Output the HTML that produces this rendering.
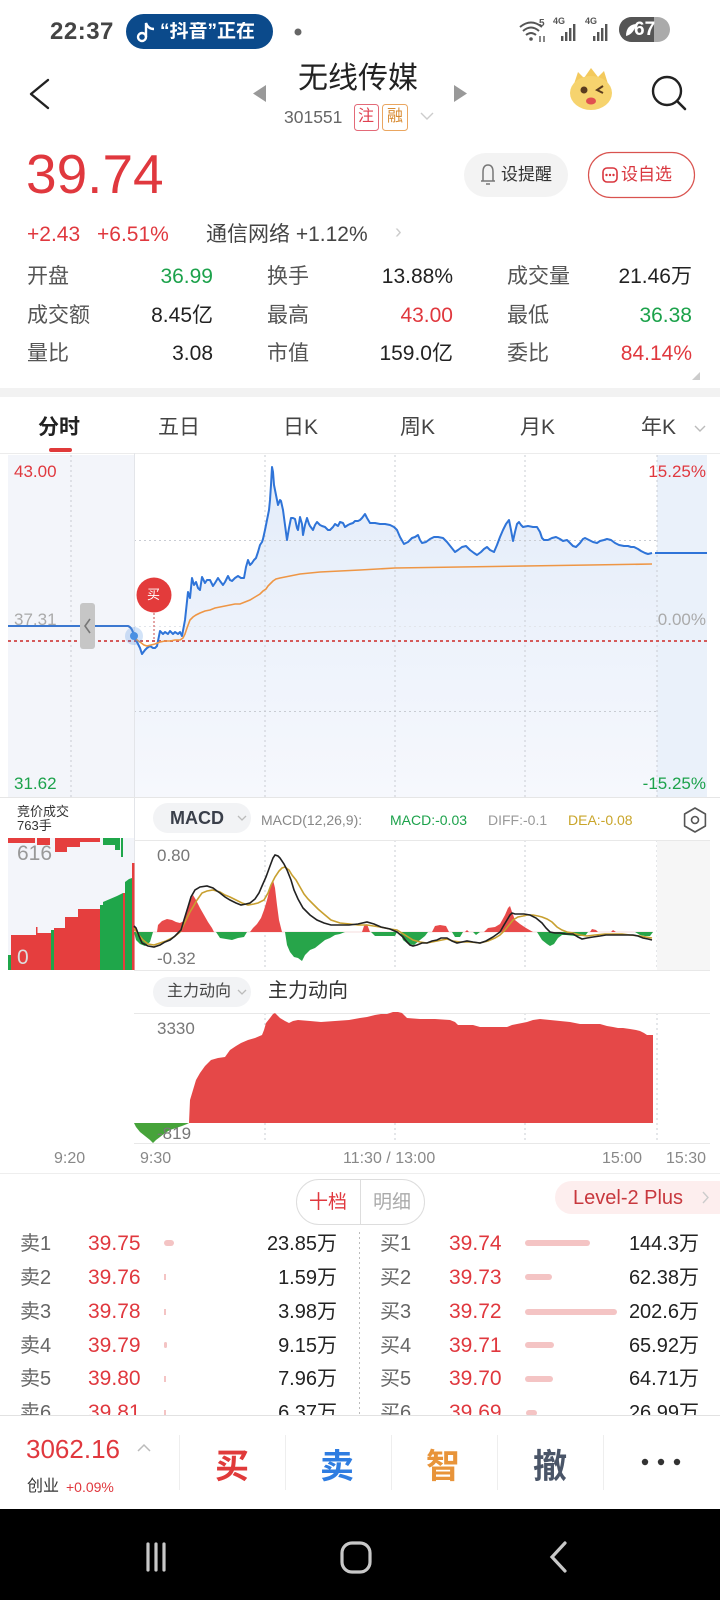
<!DOCTYPE html>
<html><head><meta charset="utf-8">
<style>
*{margin:0;padding:0;box-sizing:border-box}
html,body{width:720px;height:1600px;overflow:hidden;background:#fff}
body{position:relative;font-family:"Liberation Sans","Noto Sans CJK SC",sans-serif;color:#222}
.t{position:absolute;white-space:nowrap;line-height:1}
.r{text-align:right}
.red{color:#e0383e}.grn{color:#1ca24b}
</style></head><body>
<svg width="720" height="1600" style="position:absolute;left:0;top:0" xmlns="http://www.w3.org/2000/svg">
<defs>
<linearGradient id="fg" gradientUnits="userSpaceOnUse" x1="0" y1="460" x2="0" y2="797">
<stop offset="0" stop-color="#e3ecf9"/><stop offset="1" stop-color="#f6f8fd"/></linearGradient>
</defs>
<!-- status bar -->
<rect x="126" y="14" width="147" height="35" rx="17.5" fill="#0b4a8b"/>
<circle cx="142" cy="37" r="4" fill="none" stroke="#fff" stroke-width="2.4"/>
<path d="M146,37 V23 Q148,29 154,29" fill="none" stroke="#fff" stroke-width="2.4"/>
<circle cx="298" cy="32" r="3.5" fill="#666"/>
<path d="M520,27 Q531,18 542,27 M523,31 Q531,24 539,31 M526,35 Q531,31 536,35" fill="none" stroke="#555" stroke-width="2"/>
<circle cx="531" cy="39" r="1.8" fill="#555"/>
<path d="M540,36 V42 M544,42 V36" stroke="#555" stroke-width="1.4"/>
<g fill="#555"><rect x="561" y="36" width="2.4" height="5"/><rect x="565" y="32" width="2.4" height="9"/><rect x="569" y="28" width="2.4" height="13"/><rect x="573" y="24" width="2.4" height="17"/>
<rect x="593" y="36" width="2.4" height="5"/><rect x="597" y="32" width="2.4" height="9"/><rect x="601" y="28" width="2.4" height="13"/><rect x="605" y="24" width="2.4" height="17"/></g>
<rect x="619" y="17" width="51" height="25" rx="12.5" fill="#aaa"/>
<path d="M631.5,17 H654 V42 H631.5 A12.5,12.5 0 0 1 631.5,17 Z" fill="#555"/>
<path d="M626,36 Q626,25 636,24 Q634,34 626,36 Z" fill="#fff"/>
<!-- header -->
<path d="M48,80 L31,94 L48,108" fill="none" stroke="#222" stroke-width="2.4" stroke-linejoin="round" stroke-linecap="round"/>
<polygon points="266,85 253,93.5 266,102" fill="#999"/>
<polygon points="454,85 467,93.5 454,102" fill="#999"/>
<rect x="354.5" y="104.5" width="24" height="26" rx="3" fill="#fff" stroke="#e36a78"/>
<rect x="382.5" y="104.5" width="25" height="26" rx="3" fill="#fff" stroke="#eaa660"/>
<path d="M421,113 L427,119 L433,113" fill="none" stroke="#ccc" stroke-width="1.4"/>
<polygon points="574,84 578,72 584,78 591,68 598,77 604,71 608,84" fill="#f3c95c"/>
<ellipse cx="591" cy="93" rx="21" ry="17" fill="#f6d36e"/>
<circle cx="584" cy="90" r="3.5" fill="#5a3b1e"/>
<path d="M603,86 L597,90 L603,93" fill="none" stroke="#5a3b1e" stroke-width="2"/>
<ellipse cx="591" cy="101" rx="5" ry="3.5" fill="#e05050"/>
<circle cx="667" cy="91" r="14" fill="none" stroke="#222" stroke-width="2.4"/>
<path d="M677,101 L685,109" stroke="#222" stroke-width="2.6" stroke-linecap="round"/>
<rect x="464" y="153" width="104" height="44" rx="22" fill="#f3f3f3"/>
<path d="M483,181 V172 Q483,165 488,165 Q493,165 493,172 V181 Z M481,181 H495 M486,184 H490" fill="none" stroke="#777" stroke-width="1.5"/>
<rect x="588.5" y="152.5" width="106" height="45" rx="22.5" fill="#fff" stroke="#d9534f" stroke-width="1.2"/>
<rect x="603" y="168" width="14" height="14" rx="4" fill="none" stroke="#d9363e" stroke-width="1.6"/>
<g fill="#d9363e"><circle cx="606.5" cy="175" r="1.2"/><circle cx="610" cy="175" r="1.2"/><circle cx="613.5" cy="175" r="1.2"/></g>
<polygon points="700,372 700,380 692,380" fill="#ccc"/>
<rect x="0" y="388" width="720" height="9" fill="#f2f2f2"/>
<path d="M695,426 L700,431 L705,426" fill="none" stroke="#bbb" stroke-width="1.4"/>
<rect x="49" y="448" width="23" height="4" rx="2" fill="#e03a3a"/>
<line x1="0" y1="453.5" x2="720" y2="453.5" stroke="#ececec"/>
<!-- main chart backgrounds -->
<rect x="8" y="455" width="126" height="342" fill="#f3f5fa"/>
<rect x="657" y="455" width="50" height="342" fill="#eaf1fa"/>
<path fill="url(#fg)" d="M134,636 L140,648 142,654 145,650 147,648 150,646 153,648 155,648 157,646 160,631 163,634 165,632 168,634 170,631 173,634 175,632 178,634 180,632 182,636 185,620 188,592 190,598 192,578 194,585 196,582 198,588 200,590 202,577 205,583 207,580 210,580 213,586 215,583 218,578 220,581 223,585 225,582 228,576 230,580 232,581 235,578 238,576 241,578 244,578 246,567 248,560 250,565 252,563 254,560 256,558 258,552 260,545 262,542 263,539 265,530 267,520 269,510 270,500 271,485 272,467 273,472 274,485 276,495 278,505 280,500 281,501 283,510 285,525 287,540 289,528 291,518 293,518 295,519 297,528 298,530 300,517 302,524 303,535 305,525 307,518 309,524 310,526 313,530 315,525 317,522 320,525 322,526 325,527 328,530 330,530 333,527 335,524 338,526 340,522 343,523 345,527 348,525 350,524 353,523 355,521 358,521 360,520 362,518 365,514 367,518 370,523 375,523 380,524 385,524 390,525 394,527 397,530 400,537 404,544 408,542 412,538 415,537 418,535 420,540 422,543 426,542 430,539 434,537 438,537 443,538 447,542 451,547 455,552 458,550 462,547 466,546 470,550 474,553 477,555 481,552 484,549 487,547 490,550 494,552 497,545 500,537 503,530 506,524 509,520 511,530 513,541 515,532 517,524 519,522 521,525 523,527 528,526 533,527 537,527 540,532 542,538 544,540 548,540 552,538 556,537 560,539 563,541 567,540 570,543 573,546 576,547 580,543 583,539 585,538 589,540 593,542 597,543 600,541 604,540 607,539 611,540 615,543 619,545 624,546 628,546 631,547 634,547 638,549 641,551 645,553 648,554 652,553 657,553 L657,797 L134,797 Z"/>
<!-- grids -->
<g stroke="#c9ccd3" stroke-width="1" stroke-dasharray="2,3" fill="none">
<path d="M71,455 V797 M265,455 V797 M395,455 V797 M525,455 V797 M657,455 V797"/>
<path d="M134,540.5 H657 M134,711.5 H657"/>
<path d="M71,838 V970 M265,840 V970 M395,840 V970 M525,840 V970 M657,840 V970"/>
<path d="M265,1013 V1143 M395,1013 V1143 M525,1013 V1143 M657,1013 V1143"/>
</g>
<line x1="134" y1="626.5" x2="657" y2="626.5" stroke="#e2e5ea" stroke-dasharray="2,3"/>
<line x1="134.5" y1="453" x2="134.5" y2="970" stroke="#e3e5e9"/>
<line x1="0" y1="797.5" x2="720" y2="797.5" stroke="#e6e6e6"/>
<!-- red dotted buy line -->
<line x1="8" y1="641" x2="707" y2="641" stroke="#d55a5a" stroke-width="2" stroke-dasharray="3,3"/>
<!-- price lines -->
<path d="M8,626 L128,626 C131,627 133,631 134,636" fill="none" stroke="#3b78d0" stroke-width="2"/>
<polyline fill="none" stroke="#2f74d8" stroke-width="2" stroke-linejoin="round" points="134,636 140,648 142,654 145,650 147,648 150,646 153,648 155,648 157,646 160,631 163,634 165,632 168,634 170,631 173,634 175,632 178,634 180,632 182,636 185,620 188,592 190,598 192,578 194,585 196,582 198,588 200,590 202,577 205,583 207,580 210,580 213,586 215,583 218,578 220,581 223,585 225,582 228,576 230,580 232,581 235,578 238,576 241,578 244,578 246,567 248,560 250,565 252,563 254,560 256,558 258,552 260,545 262,542 263,539 265,530 267,520 269,510 270,500 271,485 272,467 273,472 274,485 276,495 278,505 280,500 281,501 283,510 285,525 287,540 289,528 291,518 293,518 295,519 297,528 298,530 300,517 302,524 303,535 305,525 307,518 309,524 310,526 313,530 315,525 317,522 320,525 322,526 325,527 328,530 330,530 333,527 335,524 338,526 340,522 343,523 345,527 348,525 350,524 353,523 355,521 358,521 360,520 362,518 365,514 367,518 370,523 375,523 380,524 385,524 390,525 394,527 397,530 400,537 404,544 408,542 412,538 415,537 418,535 420,540 422,543 426,542 430,539 434,537 438,537 443,538 447,542 451,547 455,552 458,550 462,547 466,546 470,550 474,553 477,555 481,552 484,549 487,547 490,550 494,552 497,545 500,537 503,530 506,524 509,520 511,530 513,541 515,532 517,524 519,522 521,525 523,527 528,526 533,527 537,527 540,532 542,538 544,540 548,540 552,538 556,537 560,539 563,541 567,540 570,543 573,546 576,547 580,543 583,539 585,538 589,540 593,542 597,543 600,541 604,540 607,539 611,540 615,543 619,545 624,546 628,546 631,547 634,547 638,549 641,551 645,553 648,554 652,553"/>
<line x1="655" y1="553" x2="707" y2="553" stroke="#2f74d8" stroke-width="2"/>
<polyline fill="none" stroke="#ee9645" stroke-width="1.6" points="134,636 137,640 140,642 144,645 147,646 151,645 155,644 160,642 165,641 170,641 175,640 180,640 183,638 185,634 187,628 190,620 193,617 196,615 200,613 205,611 210,610 215,608 220,607 225,606 230,605 235,604 240,604 245,602 250,600 255,597 260,594 263,591 266,589 268,586 270,584 273,581 276,579 280,578 285,577 290,576 300,574 310,573 320,572 340,571 360,570 395,568 460,567 525,566 590,565 652,564"/>
<circle cx="134" cy="636" r="9" fill="#4a90e2" opacity="0.25"/>
<circle cx="134" cy="636" r="4" fill="#4a90e2"/>
<line x1="154" y1="613" x2="154" y2="641" stroke="#c94b4b" stroke-dasharray="2,2"/>
<circle cx="154" cy="595" r="17.5" fill="#e33b3b"/>
<rect x="80" y="603" width="15" height="46" rx="3" fill="#c6c6c6"/>
<path d="M90,619 L85,626 L90,633" fill="none" stroke="#777" stroke-width="1.6"/>
<!-- left pre-market volume -->
<rect x="8" y="838" width="126" height="132" fill="#f3f5fa"/>
<g fill="#e53e3e">
<rect x="11" y="935" width="25" height="35"/><rect x="36" y="927" width="1.5" height="43"/><rect x="37.5" y="933" width="13.5" height="37"/>
<rect x="54" y="928" width="11" height="42"/><rect x="65" y="917" width="13" height="53"/><rect x="78" y="909" width="22" height="61"/>
<rect x="123" y="893" width="2" height="77"/><rect x="132" y="863" width="2.5" height="107"/>
<rect x="8" y="838" width="27" height="5"/><rect x="37" y="838" width="13" height="7"/><rect x="55" y="838" width="12" height="14"/><rect x="67" y="838" width="13" height="9"/><rect x="80" y="838" width="20" height="4"/>
</g>
<g fill="#1fa64a">
<rect x="8" y="955" width="3" height="15"/><rect x="51" y="930" width="3" height="40"/><rect x="100" y="905" width="3" height="65"/>
<polygon points="103,970 103,902 110,899 117,896 123,893 123,970"/><polygon points="125,970 125,882 129,879 132,878 132,970"/>
<rect x="103" y="838" width="12" height="7"/><rect x="115" y="838" width="5" height="12"/><rect x="121" y="838" width="2" height="19"/>
</g>
<!-- MACD -->
<rect x="153" y="803" width="98" height="30" rx="15" fill="#f2f3f5"/>
<path d="M238,816 L242,820 L246,816" fill="none" stroke="#bbb" stroke-width="1.3"/>
<polygon points="695,808 705.4,814 705.4,826 695,832 684.6,826 684.6,814" fill="none" stroke="#555" stroke-width="1.6" stroke-linejoin="round"/>
<circle cx="695" cy="820" r="3.5" fill="none" stroke="#555" stroke-width="1.6"/>
<rect x="657" y="840" width="53" height="130" fill="#f6f6f6"/>
<line x1="134" y1="840.5" x2="710" y2="840.5" stroke="#e8e8e8"/>
<line x1="134" y1="970.5" x2="710" y2="970.5" stroke="#e8e8e8"/>
<line x1="134" y1="932" x2="653" y2="932" stroke="#f0d0d0" stroke-width="0.8"/>
<g fill="#e84a4a">
<polygon points="157,932 158,925 162,921 167,919 172,920 176,922 180,923 184,921 186,912 189,903 193,895 196,900 200,908 204,915 208,922 212,928 214,932"/>
<polygon points="250,932 253,928 257,924 261,918 264,910 267,900 270,888 273,880 275,888 277,905 279,920 282,932"/>
<polygon points="362,932 364,926 367,924 370,932"/>
<polygon points="432,932 435,926 440,925 446,926 449,932"/>
<polygon points="465,932 467,930 469,932"/>
<polygon points="484,932 488,928 495,927 500,924 505,915 508,908 510,906 512,912 515,920 520,924 526,928 533,932"/>
<polygon points="590,932 592,929 596,930 598,932"/>
<polygon points="611,932 613,930 616,932"/>
</g>
<g fill="#27a54a">
<polygon points="134,932 136,940 140,944 145,946 150,942 153,932"/>
<polygon points="216,932 220,938 226,939 232,940 238,938 244,937 247,932"/>
<polygon points="285,932 287,945 290,952 294,957 298,958 302,961 305,955 310,950 315,948 320,944 325,940 330,938 335,935 340,934 345,932"/>
<polygon points="371,932 375,936 385,936 395,936 397,932"/>
<polygon points="400,932 403,940 408,944 414,945 420,940 425,936 428,932"/>
<polygon points="452,932 455,937 460,937 463,932"/>
<polygon points="473,932 476,935 480,932"/>
<polygon points="537,932 542,940 547,944 550,946 554,944 558,938 562,935 566,935 575,936 585,936 588,932"/>
<polygon points="635,932 640,935 645,936 650,936 653,932"/>
</g>
<polyline fill="none" stroke="#c8a030" stroke-width="1.6" points="134,928 138,934 143,940 148,944 154,945 160,943 166,941 174,937 180,932 185,922 190,912 193,907 197,900 202,893 207,891 213,890 220,892 225,895 230,897 236,900 242,903 248,905 254,904 258,903 264,900 268,893 271,885 275,877 279,871 282,868 285,867 289,870 292,875 296,880 300,887 304,894 308,899 312,903 318,909 325,915 331,920 340,923 350,924 358,925 367,925 380,927 390,929 397,930 405,935 413,940 420,942 427,943 437,941 447,939 453,941 460,942 470,942 480,943 488,941 495,938 500,935 505,930 509,925 513,920 518,917 523,916 527,915 533,915 538,916 542,917 547,919 552,922 557,927 562,930 567,932 573,933 580,935 587,936 595,935 605,934 613,934 622,934 630,935 640,936 646,937 652,938"/>
<polyline fill="none" stroke="#222" stroke-width="1.6" points="134,926 136,928 139,936 142,943 148,946 154,947 160,945 165,942 170,940 175,936 181,930 184,920 188,907 191,897 195,890 200,887 207,886 213,888 217,891 220,893 225,897 230,900 236,903 241,905 246,904 250,903 255,899 259,893 262,886 266,877 270,866 273,858 275,855 278,856 280,858 284,864 287,870 291,880 294,890 298,899 303,908 310,915 317,920 324,923 331,925 340,925 349,925 358,924 367,922 374,924 381,927 390,929 397,932 403,937 407,942 410,945 413,946 417,945 422,943 427,943 432,941 437,940 441,938 447,938 452,941 457,943 462,942 467,941 473,942 480,943 486,941 493,937 500,932 504,925 507,920 510,915 512,913 515,914 518,914 524,914 530,915 536,918 542,923 546,928 550,932 555,933 560,933 566,934 573,934 578,937 582,939 587,938 593,937 600,936 606,935 613,935 620,935 627,935 633,935 638,936 643,938 648,939 652,940"/>
<!-- main force -->
<rect x="153" y="977" width="98" height="30" rx="15" fill="#f2f3f5"/>
<path d="M238,990 L242,994 L246,990" fill="none" stroke="#bbb" stroke-width="1.3"/>
<line x1="134" y1="1013.5" x2="710" y2="1013.5" stroke="#e8e8e8"/>
<line x1="134" y1="1143.5" x2="710" y2="1143.5" stroke="#e8e8e8"/>
<polygon fill="#e54848" points="189,1123 190,1100 193,1090 196,1080 200,1073 205,1066 211,1060 218,1058 225,1057 230,1050 236,1046 241,1043 248,1040 255,1038 262,1035 264,1030 266,1023 270,1018 273,1014 275,1013 278,1016 280,1018 285,1021 289,1023 293,1021 298,1020 310,1021 321,1022 335,1021 349,1020 360,1018 367,1017 375,1015 381,1014 387,1014 393,1012 398,1012 402,1013 405,1016 407,1018 420,1019 435,1019 450,1020 455,1022 458,1025 466,1025 473,1025 480,1027 495,1027 507,1027 512,1025 517,1024 522,1023 527,1022 533,1020 540,1019 550,1020 560,1021 570,1022 575,1023 580,1024 590,1024 600,1024 607,1026 613,1027 618,1028 623,1028 630,1029 636,1030 640,1031 644,1033 647,1035 653,1035 653,1123"/>
<polygon fill="#46a33a" points="134,1123 136,1127 140,1132 145,1136 150,1140 153,1143 156,1140 160,1137 165,1133 170,1130 176,1128 182,1126 187,1124 189,1123"/>
<line x1="0" y1="1173.5" x2="720" y2="1173.5" stroke="#eee"/>
<!-- order book -->
<rect x="296.5" y="1179.5" width="128" height="45" rx="22.5" fill="#fff" stroke="#ddd"/>
<line x1="360.5" y1="1180" x2="360.5" y2="1224" stroke="#ddd"/>
<rect x="555" y="1181" width="180" height="33" rx="16.5" fill="#fdeeee"/>
<path d="M703,1192 L708,1197.5 L703,1203" fill="none" stroke="#ccc" stroke-width="1.4"/>
<line x1="359.5" y1="1232" x2="359.5" y2="1415" stroke="#bbb" stroke-dasharray="2,3"/>
<g fill="#f4c4c4">
<rect x="164" y="1240" width="10" height="6" rx="3"/><rect x="164" y="1274" width="2" height="6"/><rect x="164" y="1309" width="2" height="6"/><rect x="164" y="1342" width="3" height="6" rx="1.5"/><rect x="164" y="1376" width="2" height="6"/><rect x="164" y="1410" width="2" height="6"/>
<rect x="525" y="1240" width="65" height="6" rx="3"/><rect x="525" y="1274" width="27" height="6" rx="3"/><rect x="525" y="1309" width="92" height="6" rx="3"/><rect x="525" y="1342" width="29" height="6" rx="3"/><rect x="525" y="1376" width="28" height="6" rx="3"/><rect x="526" y="1410" width="11" height="6" rx="3"/>
</g>
</svg>

<!-- status bar text -->
<div class="t" style="left:50px;top:20px;font-size:24px;font-weight:bold;color:#444;letter-spacing:0.5px">22:37</div>
<div class="t" style="left:160px;top:22px;width:108px;overflow:hidden;font-size:19px;font-weight:bold;color:#fff">“抖音”正在</div>
<div class="t" style="left:634px;top:20px;font-size:19px;font-weight:bold;color:#fff">67</div>
<div class="t" style="left:553px;top:17px;font-size:9px;font-weight:bold;color:#555">4G</div>
<div class="t" style="left:585px;top:17px;font-size:9px;font-weight:bold;color:#555">4G</div>
<div class="t" style="left:539px;top:19px;font-size:10px;font-weight:bold;color:#555">5</div>
<!-- header -->
<div class="t" style="left:298px;top:64px;font-size:30px;color:#222">无线传媒</div>
<div class="t" style="left:284px;top:109px;font-size:17.5px;color:#666">301551</div>
<div class="t" style="left:358px;top:109px;font-size:16px;color:#e04050">注</div>
<div class="t" style="left:387px;top:109px;font-size:16px;color:#d88a30">融</div>
<div class="t red" style="left:26px;top:147px;font-size:55px">39.74</div>
<div class="t" style="left:501px;top:166px;font-size:17px;color:#333">设提醒</div>
<div class="t" style="left:621px;top:166px;font-size:17px;color:#d9363e">设自选</div>
<div class="t red" style="left:27px;top:224px;font-size:21px">+2.43</div>
<div class="t red" style="left:97px;top:224px;font-size:21px">+6.51%</div>
<div class="t" style="left:206px;top:224px;font-size:21px;color:#444">通信网络 +1.12%</div>
<div class="t" style="left:395px;top:222px;font-size:20px;color:#ccc">›</div>
<!-- stats -->
<div class="t" style="left:27px;top:266px;font-size:21px;color:#555">开盘</div>
<div class="t grn" style="right:507px;top:266px;font-size:21px">36.99</div>
<div class="t" style="left:267px;top:266px;font-size:21px;color:#555">换手</div>
<div class="t" style="right:267px;top:266px;font-size:21px">13.88%</div>
<div class="t" style="left:507px;top:266px;font-size:21px;color:#555">成交量</div>
<div class="t" style="right:28px;top:266px;font-size:21px">21.46万</div>
<div class="t" style="left:27px;top:305px;font-size:21px;color:#555">成交额</div>
<div class="t" style="right:507px;top:305px;font-size:21px">8.45亿</div>
<div class="t" style="left:267px;top:305px;font-size:21px;color:#555">最高</div>
<div class="t red" style="right:267px;top:305px;font-size:21px">43.00</div>
<div class="t" style="left:507px;top:305px;font-size:21px;color:#555">最低</div>
<div class="t grn" style="right:28px;top:305px;font-size:21px">36.38</div>
<div class="t" style="left:27px;top:343px;font-size:21px;color:#555">量比</div>
<div class="t" style="right:507px;top:343px;font-size:21px">3.08</div>
<div class="t" style="left:267px;top:343px;font-size:21px;color:#555">市值</div>
<div class="t" style="right:267px;top:343px;font-size:21px">159.0亿</div>
<div class="t" style="left:507px;top:343px;font-size:21px;color:#555">委比</div>
<div class="t red" style="right:28px;top:343px;font-size:21px">84.14%</div>
<!-- tabs -->
<div class="t" style="left:38px;top:417px;font-size:21px;font-weight:bold;color:#222">分时</div>
<div class="t" style="left:158px;top:417px;font-size:21px;color:#444">五日</div>
<div class="t" style="left:283px;top:417px;font-size:21px;color:#444">日K</div>
<div class="t" style="left:400px;top:417px;font-size:21px;color:#444">周K</div>
<div class="t" style="left:520px;top:417px;font-size:21px;color:#444">月K</div>
<div class="t" style="left:641px;top:417px;font-size:21px;color:#444">年K</div>
<!-- chart labels -->
<div class="t red" style="left:14px;top:463px;font-size:17px">43.00</div>
<div class="t" style="left:14px;top:611px;font-size:17px;color:#aaa">37.31</div>
<div class="t grn" style="left:14px;top:775px;font-size:17px">31.62</div>
<div class="t red" style="right:14px;top:463px;font-size:17px">15.25%</div>
<div class="t" style="right:14px;top:611px;font-size:17px;color:#aaa">0.00%</div>
<div class="t grn" style="right:14px;top:775px;font-size:17px">-15.25%</div>
<div class="t" style="left:147px;top:588px;font-size:13px;color:#fff">买</div>
<div class="t" style="left:17px;top:805px;font-size:13px;color:#333">竞价成交</div>
<div class="t" style="left:17px;top:819px;font-size:13px;color:#333">763手</div>
<div class="t" style="left:17px;top:843px;font-size:21px;color:#999">616</div>
<div class="t" style="left:17px;top:947px;font-size:21px;color:#ddd">0</div>
<div class="t" style="left:170px;top:809px;font-size:18px;font-weight:bold;color:#3a3f4a">MACD</div>
<div class="t" style="left:261px;top:813px;font-size:14px;color:#888">MACD(12,26,9):</div>
<div class="t" style="left:390px;top:813px;font-size:14px;color:#1ca24b">MACD:-0.03</div>
<div class="t" style="left:488px;top:813px;font-size:14px;color:#999">DIFF:-0.1</div>
<div class="t" style="left:568px;top:813px;font-size:14px;color:#c9a52a">DEA:-0.08</div>
<div class="t" style="left:157px;top:847px;font-size:17px;color:#777">0.80</div>
<div class="t" style="left:157px;top:950px;font-size:17px;color:#777">-0.32</div>
<div class="t" style="left:167px;top:984px;font-size:16px;color:#444">主力动向</div>
<div class="t" style="left:268px;top:981px;font-size:20px;color:#333">主力动向</div>
<div class="t" style="left:157px;top:1020px;font-size:17px;color:#777">3330</div>
<div class="t" style="left:157px;top:1125px;font-size:17px;color:#777">-819</div>
<div class="t" style="left:54px;top:1151px;font-size:16px;color:#888">9:20</div>
<div class="t" style="left:140px;top:1151px;font-size:16px;color:#888">9:30</div>
<div class="t" style="left:343px;top:1151px;font-size:16px;color:#888">11:30 / 13:00</div>
<div class="t" style="left:602px;top:1151px;font-size:16px;color:#888">15:00</div>
<div class="t" style="left:666px;top:1151px;font-size:16px;color:#888">15:30</div>
<!-- order book -->
<div class="t" style="left:309px;top:1193px;font-size:19px;color:#e0383e">十档</div>
<div class="t" style="left:373px;top:1193px;font-size:19px;color:#aaa">明细</div>
<div class="t" style="left:573px;top:1188px;font-size:20px;color:#c8383e">Level-2 Plus</div>
<div style="position:absolute;left:0;top:1226px;width:720px;height:189px;overflow:hidden">
<div class="t" style="left:20px;top:8px;font-size:20px;color:#666">卖1</div><div class="t red" style="left:88px;top:7px;font-size:21px">39.75</div><div class="t" style="right:383px;top:8px;font-size:20px">23.85万</div>
<div class="t" style="left:380px;top:8px;font-size:20px;color:#666">买1</div><div class="t red" style="left:449px;top:7px;font-size:21px">39.74</div><div class="t" style="right:21px;top:8px;font-size:20px">144.3万</div>
<div class="t" style="left:20px;top:42px;font-size:20px;color:#666">卖2</div><div class="t red" style="left:88px;top:41px;font-size:21px">39.76</div><div class="t" style="right:383px;top:42px;font-size:20px">1.59万</div>
<div class="t" style="left:380px;top:42px;font-size:20px;color:#666">买2</div><div class="t red" style="left:449px;top:41px;font-size:21px">39.73</div><div class="t" style="right:21px;top:42px;font-size:20px">62.38万</div>
<div class="t" style="left:20px;top:76px;font-size:20px;color:#666">卖3</div><div class="t red" style="left:88px;top:75px;font-size:21px">39.78</div><div class="t" style="right:383px;top:76px;font-size:20px">3.98万</div>
<div class="t" style="left:380px;top:76px;font-size:20px;color:#666">买3</div><div class="t red" style="left:449px;top:75px;font-size:21px">39.72</div><div class="t" style="right:21px;top:76px;font-size:20px">202.6万</div>
<div class="t" style="left:20px;top:110px;font-size:20px;color:#666">卖4</div><div class="t red" style="left:88px;top:109px;font-size:21px">39.79</div><div class="t" style="right:383px;top:110px;font-size:20px">9.15万</div>
<div class="t" style="left:380px;top:110px;font-size:20px;color:#666">买4</div><div class="t red" style="left:449px;top:109px;font-size:21px">39.71</div><div class="t" style="right:21px;top:110px;font-size:20px">65.92万</div>
<div class="t" style="left:20px;top:143px;font-size:20px;color:#666">卖5</div><div class="t red" style="left:88px;top:142px;font-size:21px">39.80</div><div class="t" style="right:383px;top:143px;font-size:20px">7.96万</div>
<div class="t" style="left:380px;top:143px;font-size:20px;color:#666">买5</div><div class="t red" style="left:449px;top:142px;font-size:21px">39.70</div><div class="t" style="right:21px;top:143px;font-size:20px">64.71万</div>
<div class="t" style="left:20px;top:177px;font-size:20px;color:#666">卖6</div><div class="t red" style="left:88px;top:176px;font-size:21px">39.81</div><div class="t" style="right:383px;top:177px;font-size:20px">6.37万</div>
<div class="t" style="left:380px;top:177px;font-size:20px;color:#666">买6</div><div class="t red" style="left:449px;top:176px;font-size:21px">39.69</div><div class="t" style="right:21px;top:177px;font-size:20px">26.99万</div>
</div>
<!-- bottom toolbar -->
<div style="position:absolute;left:0;top:1415px;width:720px;height:94px;background:#fff;border-top:1px solid #e2e2e2"></div>
<svg width="720" height="191" style="position:absolute;left:0;top:1409px" xmlns="http://www.w3.org/2000/svg">
<path d="M138,42 L144,36 L150,42" fill="none" stroke="#bbb" stroke-width="1.5"/>
<g stroke="#eee"><line x1="179.5" y1="26" x2="179.5" y2="81"/><line x1="285.5" y1="26" x2="285.5" y2="81"/><line x1="391.5" y1="26" x2="391.5" y2="81"/><line x1="497.5" y1="26" x2="497.5" y2="81"/><line x1="603.5" y1="26" x2="603.5" y2="81"/></g>
<g fill="#333"><circle cx="645" cy="53" r="3.2"/><circle cx="661" cy="53" r="3.2"/><circle cx="677" cy="53" r="3.2"/></g>
<rect x="0" y="100" width="720" height="91" fill="#000"/>
<g stroke="#c8c8c8" stroke-width="3.2" stroke-linecap="round" fill="none">
<line x1="148" y1="135" x2="148" y2="161"/><line x1="156" y1="135" x2="156" y2="161"/><line x1="164" y1="135" x2="164" y2="161"/>
<rect x="342" y="134" width="28" height="29" rx="10"/>
<path d="M565,134 L552,148 L565,162"/>
</g>
</svg>
<div class="t red" style="left:26px;top:1436px;font-size:26px">3062.16</div>
<div class="t" style="left:27px;top:1479px;font-size:16px;color:#333">创业</div>
<div class="t red" style="left:66px;top:1480px;font-size:14px">+0.09%</div>
<div class="t" style="left:215px;top:1450px;font-size:34px;font-weight:bold;color:#e03a3a">买</div>
<div class="t" style="left:320px;top:1450px;font-size:34px;font-weight:bold;color:#2f7de1">卖</div>
<div class="t" style="left:426px;top:1450px;font-size:34px;font-weight:bold;color:#e8943a">智</div>
<div class="t" style="left:533px;top:1450px;font-size:34px;font-weight:bold;color:#4a5568">撤</div>
</body></html>
